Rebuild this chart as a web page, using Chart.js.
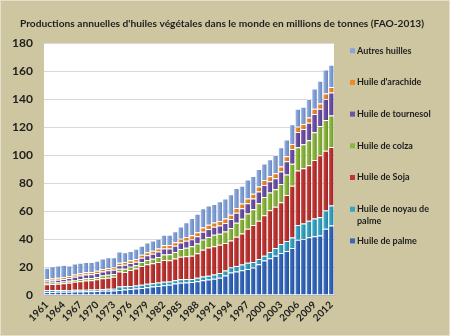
<!DOCTYPE html>
<html><head><meta charset="utf-8">
<script src="https://cdn.jsdelivr.net/npm/chart.js@4"></script>
<style>html,body{margin:0;padding:0;background:#CDC6A1;overflow:hidden}</style>
</head><body>
<canvas id="c" width="450" height="336" style="display:block;width:450px;height:336px"></canvas>
<script>
const years = ['1961','1962','1963','1964','1965','1966','1967','1968','1969','1970',
'1971','1972','1973','1974','1975','1976','1977','1978','1979','1980',
'1981','1982','1983','1984','1985','1986','1987','1988','1989','1990',
'1991','1992','1993','1994','1995','1996','1997','1998','1999','2000',
'2001','2002','2003','2004','2005','2006','2007','2008','2009','2010','2011','2012'];

const huilePalme = [2.2,2.2,2.3,2.3,2.4,2.5,2.5,2.6,2.7,2.8, 3.0,3.1,3.2,3.6,4.0,4.3,4.6,5.0,5.5,6.0,
 6.5,7.0,7.3,8.2,8.8,9.0,9.2,9.8,10.5,11.0, 11.6,12.4,14.0,16.0,16.8,17.6,18.6,19.6,22.0,24.6,
 26.2,28.0,30.0,31.5,33.5,39.5,40.0,41.3,42.0,42.5, 47.3,49.6];
const huileNoyauPalme = [1.2,1.2,1.2,1.2,1.2,1.2,1.2,1.2,1.2,1.2, 1.3,1.3,1.3,2.4,2.3,2.2,2.2,2.3,2.5,2.4,
 2.4,2.5,2.4,2.4,2.4,2.4,2.3,2.5,2.7,2.8, 3.0,3.3,3.5,3.8,4.0,4.2,4.4,4.0,3.8,3.4,
 4.6,5.5,6.5,7.0,7.5,10.5,11.0,11.7,12.6,13.1, 13.1,14.4];
const huileSoja = [4.2,4.5,4.6,4.9,5.2,5.7,6.2,6.5,6.7,7.2, 7.6,8.0,8.6,10.7,10.2,11.3,12.2,13.5,14.0,14.2,
 14.7,15.5,15.1,15.4,16.2,16.2,16.5,17.5,19.2,20.2, 20.2,20.2,19.6,19.2,20.8,22.1,24.3,26.4,27.2,29.0,
 29.7,29.5,29.8,33.0,37.0,39.0,39.5,39.6,41.9,44.2, 42.6,41.7];
const huileColza = [1.2,1.1,1.2,1.3,1.3,1.4,1.5,1.6,1.5,1.7, 2.0,2.1,1.9,2.0,2.3,2.4,2.2,2.8,3.0,3.3,
 3.6,4.0,4.3,4.8,5.5,6.2,6.8,6.9,7.2,7.5, 8.2,7.8,8.2,8.8,10.0,10.6,11.0,11.3,12.6,13.0,
 12.8,12.6,13.0,14.5,15.8,16.5,17.2,18.0,19.8,21.0, 22.0,22.5];
const huileTournesol = [1.3,1.4,1.6,1.8,2.0,2.3,2.5,2.7,2.8,2.8, 2.9,3.1,3.0,2.6,2.8,2.7,2.5,3.0,3.4,3.5,
 3.8,4.2,4.2,4.4,4.6,5.0,5.1,5.3,5.6,5.6, 5.8,6.0,6.2,6.4,7.2,7.5,7.3,7.6,8.4,8.6,
 8.0,7.8,8.9,9.5,10.4,11.0,10.8,12.4,13.0,12.2, 15.0,16.4];
const huileArachide = [1.3,1.3,1.4,1.4,1.5,1.5,1.6,1.6,1.6,1.7, 1.7,1.7,1.8,1.8,1.9,1.9,2.0,2.1,2.1,2.2,
 2.3,2.4,2.4,2.5,2.6,2.7,2.8,2.9,3.0,3.0, 3.0,3.1,3.1,3.2,3.3,3.3,3.4,3.4,3.5,3.5,
 3.5,3.6,3.6,3.6,3.7,3.7,3.6,3.8,3.8,3.8, 3.9,4.0];
const autresHuiles = [8.1,8.8,8.7,8.6,7.4,7.9,7.5,7.3,7.0,7.1, 7.5,7.7,7.2,7.9,7.0,6.7,7.3,6.5,7.0,7.4,
 6.9,7.4,7.3,7.8,8.9,10.5,12.3,13.1,13.8,13.9, 13.2,14.2,14.4,14.6,14.4,12.7,13.5,12.7,12.5,11.9,
 12.2,13.0,13.7,11.9,14.1,12.8,12.4,13.2,14.4,16.2, 17.1,15.9];

const seriesNames = ['Huile de palme','Huile de noyau de palme','Huile de Soja','Huile de colza',
  'Huile de tournesol',"Huile d'arachide",'Autres huilles'];
const yTicks = [0,20,40,60,80,100,120,140,160,180];
const titleText = "Productions annuelles d'huiles végétales dans le monde en millions de tonnes (FAO-2013)";

const palette = [
  ['#3568B8','#6F9BDB','#24509A'],
  ['#38A3C2','#7CCBE0','#23849F'],
  ['#BE3634','#DC6A66','#9A2523'],
  ['#8CB63F','#B3D675','#6E9528'],
  ['#7053A5','#9C84C9','#553C86'],
  ['#EC8A2A','#F7B46B','#C96E15'],
  ['#87A5D8','#B3C9EC','#6886BE']
];

const BAR_PCT = 0.86;
function barFill(idx){
  const [base, light, dark] = palette[idx];
  return function(ctx){
    const chart = ctx.chart, xs = chart.scales && chart.scales.x;
    if (ctx.type !== 'data' || !xs || !xs.width) return base;
    const step = xs.width / years.length;
    const bw = step * BAR_PCT;
    const cx = xs.getPixelForValue(ctx.dataIndex);
    const g = chart.ctx.createLinearGradient(cx - bw/2, 0, cx + bw/2, 0);
    g.addColorStop(0, light);
    g.addColorStop(0.3, base);
    g.addColorStop(1, dark);
    return g;
  };
}

const seriesData = [huilePalme, huileNoyauPalme, huileSoja, huileColza, huileTournesol, huileArachide, autresHuiles];
const datasets = seriesData.map((d,i)=>({
  label: seriesNames[i],
  data: d,
  legendColor: palette[i][0],
  backgroundColor: barFill(i),
  borderWidth: {top:1, left:0, right:0, bottom:0},
  borderColor: 'rgba(255,255,255,0.35)',
  barPercentage: BAR_PCT,
  categoryPercentage: 1.0
}));

const bgPlugin = {
  id:'bg',
  beforeDraw(chart){
    const c = chart.ctx, a = chart.chartArea;
    c.save();
    c.fillStyle = '#CDC6A1';
    c.fillRect(0,0,chart.width,chart.height);
    c.strokeStyle = '#E4E0CC';
    c.lineWidth = 1;
    c.strokeRect(0.5,0.5,chart.width-1,chart.height-1);
    c.fillStyle = '#FFFFFF';
    c.fillRect(a.left, a.top, a.right-a.left, a.bottom-a.top);
    c.restore();
  }
};

function wrapText(c, text, maxW){
  const words = text.split(' '); const lines = []; let cur = '';
  words.forEach(w=>{
    const t = cur ? cur + ' ' + w : w;
    if (c.measureText(t).width > maxW && cur){ lines.push(cur); cur = w; } else cur = t;
  });
  if (cur) lines.push(cur);
  return lines;
}

const titleLegendPlugin = {
  id:'titleLegend',
  afterDraw(chart){
    const c = chart.ctx, ds = chart.data.datasets;
    c.save();
    c.fillStyle = '#1E1E1E';
    c.font = 'bold 10.2px Lato';
    c.textAlign = 'center';
    c.textBaseline = 'middle';
    c.fillText(titleText, 222, 24);

    c.font = 'bold 9px Lato';
    c.textAlign = 'left';
    const x0 = chart.chartArea.right + 16;
    const top = 50.7, step = 31.7;
    for (let k=0;k<ds.length;k++){
      const d = ds[ds.length-1-k];
      const y = top + k*step;
      c.fillStyle = d.legendColor;
      c.fillRect(x0, y-2.5, 5, 5);
      c.fillStyle = '#1E1E1E';
      wrapText(c, d.label, 82).forEach((ln,j)=>c.fillText(ln, x0+7, y + j*12));
    }
    c.restore();
  }
};

new Chart(document.getElementById('c'), {
  type:'bar',
  data:{ labels: years, datasets },
  options:{
    responsive:false,
    animation:false,
    devicePixelRatio:1,
    layout:{ padding:{ left:0, right:116, top:43, bottom:0 } },
    plugins:{
      legend:{ display:false },
      tooltip:{ enabled:false },
      title:{ display:false }
    },
    scales:{
      x:{
        stacked:true,
        grid:{ display:false, drawTicks:false },
        border:{ display:true, color:'#B8B8B8' },
        ticks:{ autoSkip:false, minRotation:45, maxRotation:45, padding:4, color:'#1E1E1E',
          font:{ family:'Lato', weight:'bold', size:10 },
          callback(v, i){ return i % 3 === 0 ? years[i] : ''; } },
        afterFit(s){ s.height = 41; }
      },
      y:{
        stacked:true, min:0, max:180,
        afterBuildTicks(s){ s.ticks = yTicks.map(v=>({value:v})); },
        grid:{ color:'#D9D9D9', drawTicks:false },
        border:{ display:false },
        ticks:{ padding:11, color:'#1E1E1E', font:{ family:'Lato', weight:'bold', size:12 } },
        afterFit(s){ s.width = 44; }
      }
    }
  },
  plugins:[bgPlugin, titleLegendPlugin]
});
</script>
</body></html>
